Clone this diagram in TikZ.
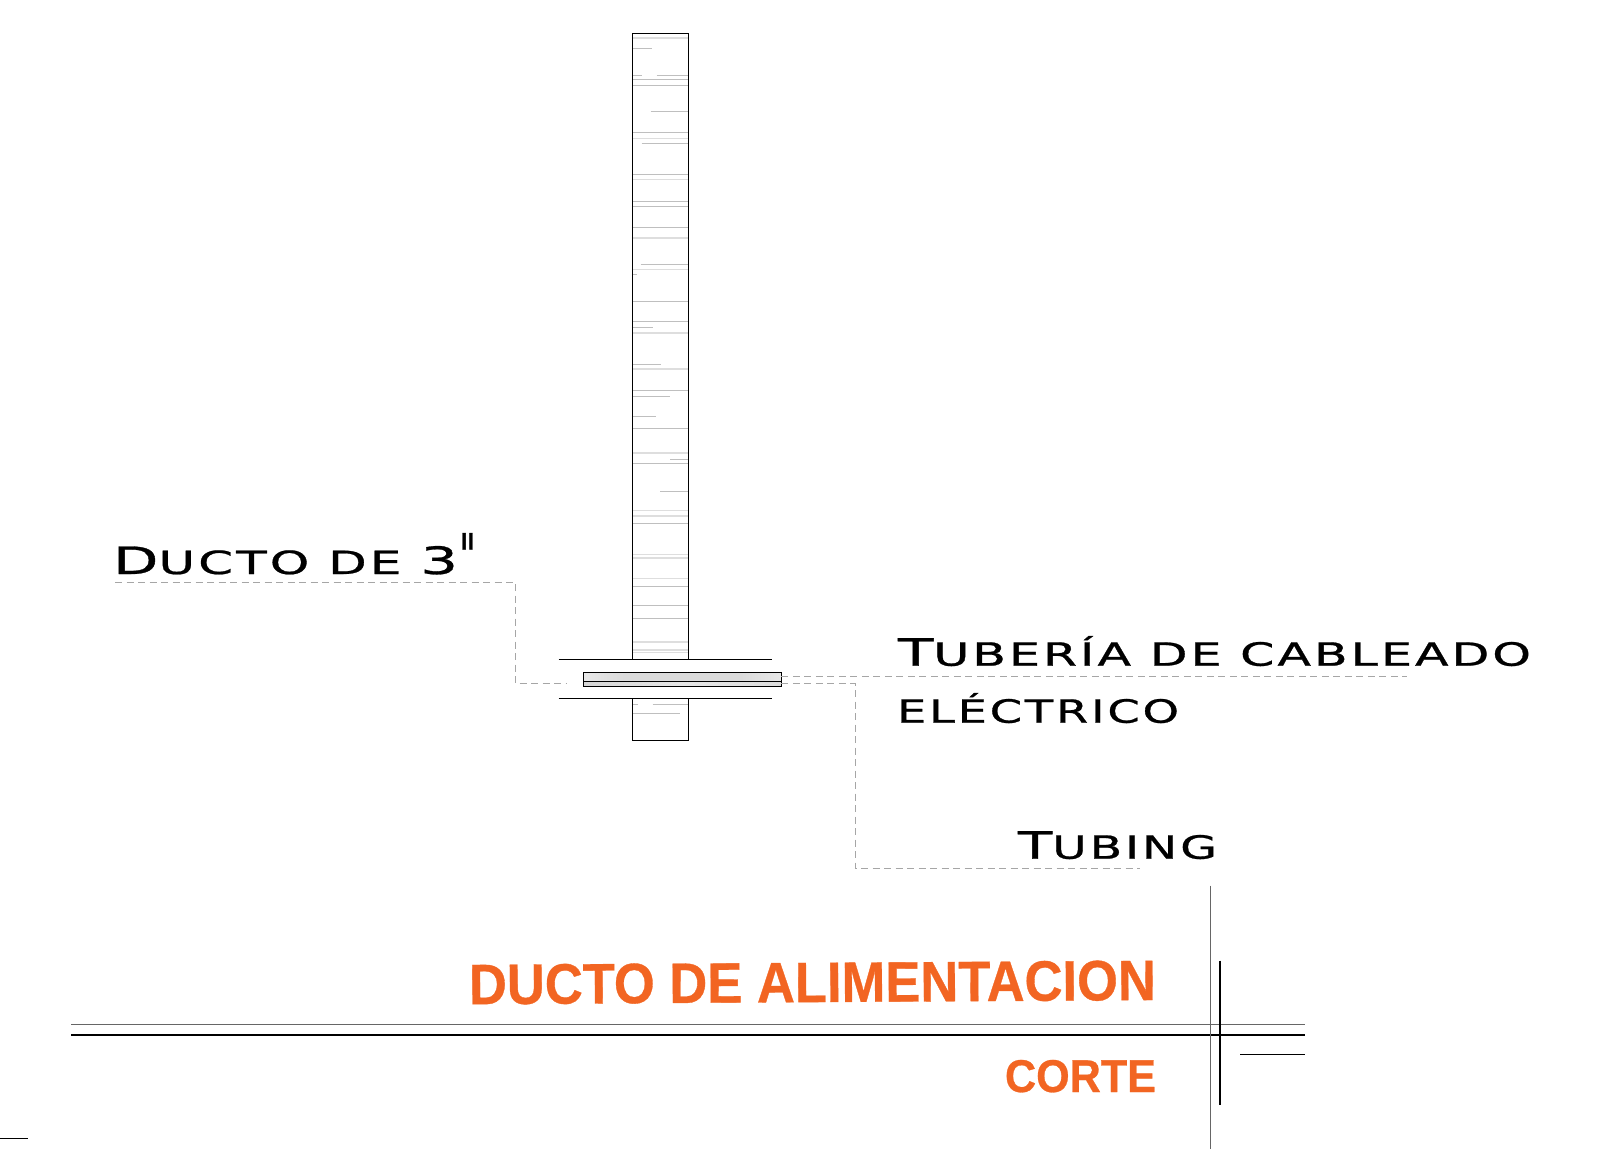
\documentclass[tikz,border=0pt]{standalone}
\usepackage{fontspec}
\usepackage{graphicx}
\setmainfont[BoldFeatures={FakeBold=0.6}]{Liberation Sans}
\newfontfamily\labfont[LetterSpace=6,FakeBold=0.7]{DejaVu Sans}
\usetikzlibrary{calc}
\definecolor{orangeT}{HTML}{F26522}
\pgfdeclarehorizontalshading{tubeup}{100bp}{color(0bp)=(black!25); color(15bp)=(black!4); color(35bp)=(black!14); color(65bp)=(black!14); color(85bp)=(black!4); color(100bp)=(black!25)}
\pgfdeclarehorizontalshading{tubelow}{100bp}{color(0bp)=(black!62); color(12bp)=(black!20); color(50bp)=(black!10); color(88bp)=(black!15); color(100bp)=(black!50)}
\newcommand\bigc[1]{{\labfont\fontsize{37.7}{40}\selectfont #1}}
\newcommand\smc[1]{{\labfont\fontsize{32}{40}\selectfont #1}}
\newcommand\fitw[2]{\resizebox{#1pt}{\height}{#2}}
\tikzset{
  lab/.style={inner sep=0pt,outer sep=0pt,anchor=base west,text=black},
  title/.style={inner sep=0pt,outer sep=0pt,anchor=base east,text=orangeT,font=\bfseries},
  leader/.style={draw=black!35,line width=0.9pt,dash pattern=on 7pt off 4.5pt},
  wall/.style={draw=black,line width=0.8pt},
  hatchd/.style={draw=black!25,line width=0.7pt},
  hatchl/.style={draw=black!13,line width=1.1pt},
  thinline/.style={draw=black!60,line width=0.9pt},
  heavy/.style={draw=black,line width=2pt},
}
\begin{document}
\begin{tikzpicture}[x=1pt,y=-1pt]
\useasboundingbox (0,0) rectangle (1611,1149);
% wall hatch
\foreach \y in {79.3,85.3,132.3,174.7,201.7,206.3,227.3,301.7,321.7,390.3,428,463.7,523,586.3,605.3,618}
  \draw[hatchd] (633,\y) -- (688,\y);
\foreach \y in {38,138.3,179.7,238,269.7,333,369,453,510.7,516,554.7,558,578.7,642,650,652.7}
  \draw[hatchl] (633,\y) -- (688,\y);
\foreach \a/\b/\y in {633/651.7/48,633/641.7/75.7,656.7/688/75.7,650.7/688/111.3,641.7/688/143,640.7/688/264.7,633/637.3/274.3,633/653.3/327.3,633/661/364.7,633/670.3/396.3,633/656/416.3,670/688/459.7,660.3/688/491.3,633/637.7/704.3,652.7/688/704.3,633/680/713.3}
  \draw[hatchd] (\a,\y) -- (\b,\y);
% wall outline
\coordinate (wtl) at (632.5,33.7);
\coordinate (wtr) at (688.5,33.7);
\coordinate (wml) at (632.5,659);
\coordinate (wmr) at (688.5,659);
\coordinate (wnl) at (632.5,698.7);
\coordinate (wnr) at (688.5,698.7);
\coordinate (wbl) at (632.5,740.7);
\coordinate (wbr) at (688.5,740.7);
\draw[wall] (wml) -- (wtl) -- (wtr) -- (wmr);
\draw[wall] (wnl) -- (wbl) -- (wbr) -- (wnr);
% sleeve lines
\coordinate (s1a) at (558.7,659); \coordinate (s1b) at (772.3,659);
\coordinate (s2a) at (558.7,698.7); \coordinate (s2b) at (772.3,698.7);
\draw[wall] (s1a) -- (s1b);
\draw[wall] (s2a) -- (s2b);
% tube
\node[minimum width=198pt,minimum height=14pt,inner sep=0pt,outer sep=0pt] (tube) at (682.3,679.3) {};
\shade[shading=tubeup] (tube.north west) rectangle (tube.east |- 0,681.7);
\shade[shading=tubelow] (tube.west |- 0,681.7) rectangle (tube.south east);
\draw[wall] (tube.north west) rectangle (tube.south east);
\draw[wall] (tube.west |- 0,681.7) -- (tube.east |- 0,681.7);
% labels
\node[lab] (ducto) at (113,574) {\fitw{345}{\bigc{D}\smc{UCTO DE }\bigc{3}}};
\node[lab] (quote) at (459,577) {\resizebox{17pt}{44pt}{\labfont "}};
\node[lab] (tub) at (898,665.7) {\fitw{633}{\bigc{T}\smc{UBERÍA DE CABLEADO}}};
\node[lab] (elec) at (897,722.7) {\fitw{282}{\smc{ELÉCTRICO}}};
\node[lab] (tubing) at (1018,858.7) {\fitw{199}{\bigc{T}\smc{UBING}}};
\node[title,rotate=0.35] (t1) at (1156,1000) {\fitw{687}{\fontsize{57}{60}\selectfont DUCTO DE ALIMENTACION}};
\node[title] (t2) at (1156,1092) {\fitw{151}{\fontsize{46}{50}\selectfont CORTE}};
% leaders
\coordinate (d1) at (115,582.3);
\coordinate (d2) at (515.7,582.3);
\coordinate (d3) at (515.7,683.7);
\coordinate (d4) at (567,683.7);
\draw[leader] (d1) -- (d2) -- (d3) -- (d4);
\coordinate (e1) at (1407,676.7);
\draw[leader] (tube.east |- e1) -- (e1);
\coordinate (f1) at (855,683.3);
\coordinate (f2) at (855,868);
\coordinate (f3) at (1140,868);
\draw[leader] (tube.east |- f1) -- (f1) -- (f2) -- (f3);
% title block
\coordinate (h1a) at (71,1024); \coordinate (h1b) at (1304.5,1024);
\coordinate (h2a) at (71,1035.3); \coordinate (h2b) at (1304.5,1035.3);
\coordinate (v1a) at (1210,885.6); \coordinate (v1b) at (1210,1149);
\coordinate (v2a) at (1219.7,960.7); \coordinate (v2b) at (1219.7,1105);
\coordinate (g1) at (1240,1054.3); \coordinate (g2) at (1304.5,1054.3);
\coordinate (k1) at (0,1138.5); \coordinate (k2) at (28,1138.5);
\draw[thinline] (h1a) -- (h1b);
\draw[heavy] (h2a) -- (h2b);
\draw[thinline] (v1a) -- (v1b);
\draw[heavy] (v2a) -- (v2b);
\draw[draw=black,line width=0.8pt] (g1) -- (g2);
\draw[draw=black,line width=0.8pt] (k1) -- (k2);
\end{tikzpicture}
\end{document}
